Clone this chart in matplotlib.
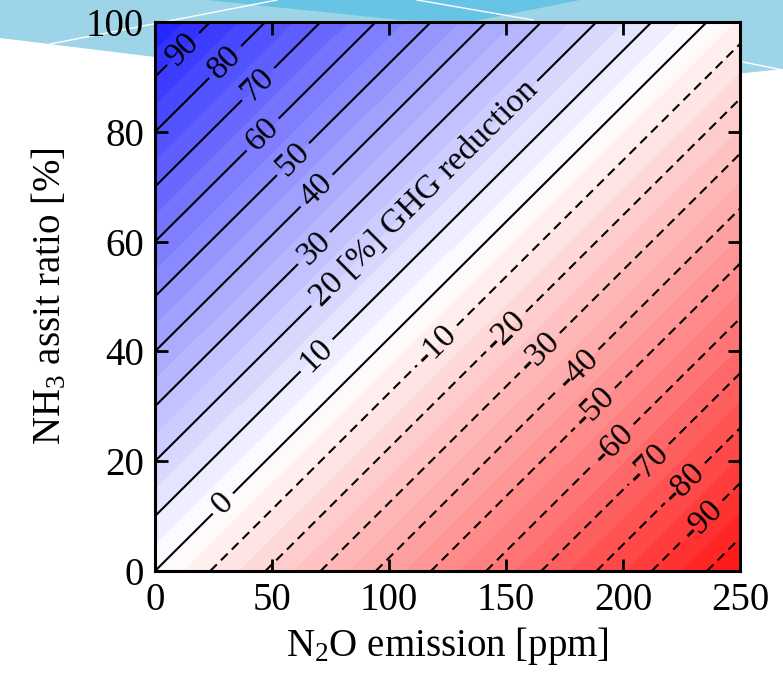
import numpy as np
import matplotlib
matplotlib.use("Agg")
import matplotlib.pyplot as plt
from matplotlib.patches import Polygon
from matplotlib.lines import Line2D

plt.rcParams['font.family'] = ['Liberation Serif', 'DejaVu Serif']
plt.rcParams['mathtext.fontset'] = 'custom'
plt.rcParams['mathtext.rm'] = 'Liberation Serif'
plt.rcParams['mathtext.it'] = 'Liberation Serif:italic'

# grid corners (reduction is linear across the plane)
n2o = [0, 250]          # ppm
nh3 = [0, 100]          # %
reduction = [[0, -106],  # nh3 = 0
             [100, -6]]  # nh3 = 100

fill_levels = [-110, -105, -100, -95, -90, -85, -80, -75, -70, -65, -60, -55,
               -50, -45, -40, -35, -30, -25, -20, -15, -10, -5, 0, 5, 10, 15,
               20, 25, 30, 35, 40, 45, 50, 55, 60, 65, 70, 75, 80, 85, 90,
               95, 100, 105]
line_levels = [-100, -90, -80, -70, -60, -50, -40, -30, -20, -10,
               0, 10, 20, 30, 40, 50, 60, 70, 80, 90]

label_pos = [(12, 95.1), (30, 92.7), (44, 88.7), (46, 79.5), (59, 75),
             (69, 69.3), (68, 58.8), (115, 68.8), (69, 39.3), (29, 12.3),
             (120.5, 41.1), (150, 43.6), (164.5, 39.7), (181, 36.7),
             (188, 29.7), (196, 23.1), (211, 19.5), (226.5, 16), (234, 9.2)]

W, H = 783, 673
fig = plt.figure(figsize=(W / 100, H / 100), dpi=100)


def px(points):
    return [(x / W, 1 - y / H) for x, y in points]


# slide decoration at the top, behind the axes
fig.patches.append(Polygon(px([(0, 0), (783, 0), (783, 69), (745, 73), (155, 57), (0, 38)]),
                           closed=True, transform=fig.transFigure, fc='#9ed4e8', ec='none', zorder=-10))
fig.patches.append(Polygon(px([(207, 0), (580, 0), (470, 22), (400, 20)]),
                           closed=True, transform=fig.transFigure, fc='#68c4e4', ec='none', zorder=-10))
for a, b in [((50, 44), (277, 0)), ((417, 0), (533, 20)), ((743, 62), (783, 70))]:
    (x0, y0), (x1, y1) = px([a, b])
    fig.lines.append(Line2D([x0, x1], [y0, y1], transform=fig.transFigure,
                            color='white', lw=1.0, zorder=-9))

ax = fig.add_axes([155 / W, 1 - 571 / H, 585 / W, 549 / H])
ax.set_zorder(1)

X, Y = np.meshgrid(n2o, nh3)
Z = np.array(reduction, dtype=float)

norm = matplotlib.colors.Normalize(vmin=-115, vmax=115)
ax.contourf(X, Y, Z, levels=fill_levels, cmap='bwr_r', norm=norm)
styles = ['solid' if v >= 0 else (0, (4.5, 2.8)) for v in line_levels]
cs = ax.contour(X, Y, Z, levels=line_levels, colors='black',
                linewidths=1.5, linestyles=styles)

fmt = {v: '%d' % v for v in line_levels}
fmt[20] = '20 [%] GHG reduction'
ax.clabel(cs, fmt=fmt, manual=label_pos, inline=True, inline_spacing=6,
          fontsize=24)

ax.set_xlim(0, 250)
ax.set_ylim(0, 100)
ax.set_xticks([0, 50, 100, 150, 200, 250])
ax.set_yticks([0, 20, 40, 60, 80, 100])
ax.tick_params(direction='in', length=9, width=2, top=True, right=True,
               labelsize=28, pad=8)
for s in ax.spines.values():
    s.set_linewidth(2.2)

ax.set_xlabel('N$_2$O emission [ppm]', fontsize=28, labelpad=4)
ax.set_ylabel('NH$_3$ assit ratio [%]', fontsize=28, labelpad=12)

fig.savefig('out.png', dpi=100)
